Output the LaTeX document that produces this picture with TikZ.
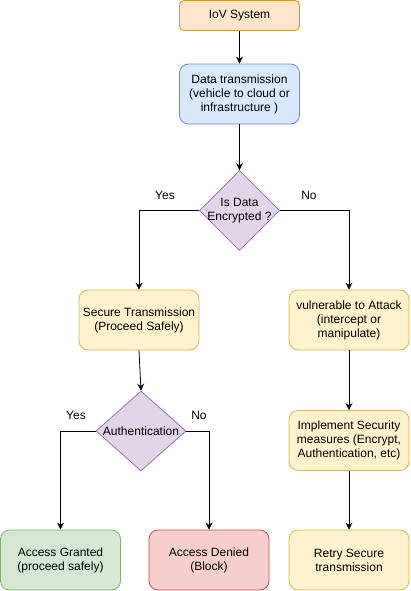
\documentclass[tikz,border=0pt]{standalone}
\usepackage{fontspec}
\setmainfont{Liberation Sans}
\usepackage{tikz}
\usetikzlibrary{arrows.meta,shapes,positioning}

% colours of the boxes
\definecolor{orfill}{HTML}{FFE6CC}\definecolor{ordraw}{HTML}{D79B00}
\definecolor{blfill}{HTML}{DAE8FC}\definecolor{bldraw}{HTML}{6C8EBF}
\definecolor{pufill}{HTML}{E1D5E7}\definecolor{pudraw}{HTML}{9673A6}
\definecolor{yefill}{HTML}{FFF2CC}\definecolor{yedraw}{HTML}{D6B656}
\definecolor{grfill}{HTML}{D5E8D4}\definecolor{grdraw}{HTML}{82B366}
\definecolor{refill}{HTML}{F8CECC}\definecolor{redraw}{HTML}{B85450}

\tikzset{
  box/.style={rectangle, rounded corners=9pt, line width=0.8pt, align=center,
    minimum width=120pt, minimum height=60pt, inner sep=0pt,
    font=\fontsize{12}{14}\selectfont},
  decision/.style={diamond, line width=0.8pt, draw=pudraw, fill=pufill,
    minimum width=#1, minimum height=80pt, inner sep=0pt},
  txt/.style={font=\fontsize{12}{14}\selectfont, align=center},
  flow/.style={line width=0.8pt, -{Stealth[length=7pt,width=7pt]}}
}

\begin{document}
\begin{tikzpicture}[x=1pt,y=-1pt]
  \useasboundingbox (0,0) rectangle (410,591);

  % top of the chart
  \node[box, rounded corners=4.5pt, minimum height=30pt, draw=ordraw, fill=orfill] (iov) at (239.5,15.5) {IoV System};
  \node[box, draw=bldraw, fill=blfill] (data) at (239.5,94) {Data transmission\\(vehicle to cloud or\\infrastructure )};

  % first question
  \node[decision=80pt, label={[txt]center:Is Data\\Encrypted ?}] (enc) at (239.5,210.5) {};

  % yes branch
  \node[box, draw=yedraw, fill=yefill] (sec) at (139,320) {Secure Transmission\\(Proceed Safely)};
  \node[decision=90pt, label={[txt]center:Authentication}] (auth) at (141,431) {};
  \node[box, draw=grdraw, fill=grfill] (grant) at (60.5,560) {Access Granted\\(proceed safely)};
  \node[box, draw=redraw, fill=refill] (deny) at (209,560) {Access Denied\\(Block)};

  % no branch
  \node[box, draw=yedraw, fill=yefill] (vul) at (349,320) {vulnerable to Attack\\(intercept or\\manipulate)};
  \node[box, draw=yedraw, fill=yefill] (impl) at (349,440.5) {Implement Security\\measures (Encrypt,\\Authentication, etc)};
  \node[box, draw=yedraw, fill=yefill] (retry) at (349,560) {Retry Secure\\transmission};

  % branch labels
  \node[txt] (y1) at (165,195) {Yes};
  \node[txt] (n1) at (309,195) {No};
  \node[txt] (y2) at (76,415) {Yes};
  \node[txt] (n2) at (199,415) {No};

  % connectors
  \draw[flow] (iov) -- (data);
  \draw[flow] (data) -- (enc);
  \draw[flow] (enc.west) -| (sec.north);
  \draw[flow] (enc.east) -| (vul.north);
  \draw[flow] (sec.south) -- (auth.north);
  \draw[flow] (auth.west) -| (grant.north);
  \draw[flow] (auth.east) -| (deny.north);
  \draw[flow] (vul) -- (impl);
  \draw[flow] (impl) -- (retry);
\end{tikzpicture}
\end{document}
